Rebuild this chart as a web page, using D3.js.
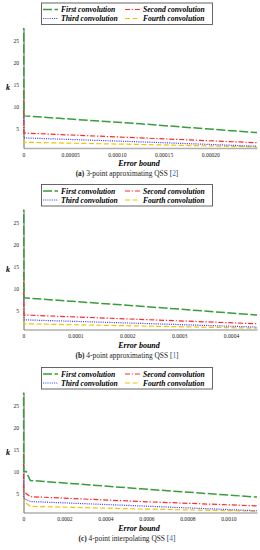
<!DOCTYPE html>
<html>
<head>
<meta charset="utf-8">
<script src="https://cdn.jsdelivr.net/npm/d3@7"></script>
<style>
  body { margin: 0; background: #fff; }
  svg text { font-family: "Liberation Serif", "DejaVu Serif", serif; }
</style>
</head>
<body>
<svg id="chart" width="260" height="550"></svg>
<script>
// series names and styles order
var seriesNames = ["First convolution", "Second convolution", "Third convolution", "Fourth convolution"];
var seriesColors = ["#3a9c3a", "#ff2b2b", "#4646ff", "#f4c300"];
var seriesDash = ["9,2.5", "5,1.8,1.3,1.8", "1.1,1.1", "5,2.5"];

// panel (a)
var xA = [0, 0.0000005, 0.000125, 0.00025];
var firstA = [40, 8.0, 6.2, 4.2];
var secondA = [13.8, 4.1, 3.0, 1.9];
var thirdA = [9, 3.0, 2.1, 1.1];
var fourthA = [6, 2.0, 1.5, 0.95];
var ticksA = [0, 0.00005, 0.0001, 0.00015, 0.0002];
var tickLabelsA = ["0", "0.00005", "0.00010", "0.00015", "0.00020"];

// panel (b)
var xB = [0, 0.000001, 0.000225, 0.00045];
var firstB = [40, 7.9, 6.0, 4.0];
var secondB = [13.8, 4.0, 3.0, 2.0];
var thirdB = [9, 2.9, 2.1, 1.25];
var fourthB = [6, 2.0, 1.5, 1.0];
var ticksB = [0, 0.0001, 0.0002, 0.0003, 0.0004];
var tickLabelsB = ["0", "0.0001", "0.0002", "0.0003", "0.0004"];

// panel (c)
var xC = [0, 0.000001, 0.000013, 0.000033, 0.00057, 0.00114];
var firstC = [40, 10, 10, 8.0, 6.1, 4.2];
var secondC = [14, 5.5, 5.0, 4.3, 3.2, 2.2];
var thirdC = [9, 4.0, 3.6, 3.2, 2.2, 1.1];
var fourthC = [6, 3.5, 2.8, 2.1, 1.5, 1.0];
var ticksC = [0, 0.0002, 0.0004, 0.0006, 0.0008, 0.001];
var tickLabelsC = ["0", "0.0002", "0.0004", "0.0006", "0.0008", "0.0010"];

var xMax = [0.00025, 0.00045, 0.00114];
var yTicks = [5, 10, 15, 20, 25];
var yDomain = [0.7, 28];
var captionLabels = ["(a)", "(b)", "(c)"];
var captionTexts = [" 3-point approximating QSS [", " 4-point approximating QSS [", " 4-point interpolating QSS ["];
var captionRefs = ["2", "1", "4"];

var panels = [
    {x: xA, series: [firstA, secondA, thirdA, fourthA], ticks: ticksA, labels: tickLabelsA},
    {x: xB, series: [firstB, secondB, thirdB, fourthB], ticks: ticksB, labels: tickLabelsB},
    {x: xC, series: [firstC, secondC, thirdC, fourthC], ticks: ticksC, labels: tickLabelsC}
];
var offsets = [0, 181.5, 364.5];

var svg = d3.select("#chart");
var plotLeft = 23.5, plotRight = 257, plotTop = 28, plotBottom = 148;

panels.forEach(function (p, i) {
    var g = svg.append("g").attr("transform", "translate(0," + offsets[i] + ")");

    var xScale = d3.scaleLinear().domain([0, xMax[i]]).range([plotLeft, plotRight]);
    var yScale = d3.scaleLinear().domain(yDomain).range([plotBottom, plotTop]);

    g.append("clipPath").attr("id", "clip" + i)
        .append("rect")
        .attr("x", plotLeft - 2).attr("y", plotTop)
        .attr("width", plotRight - plotLeft + 4).attr("height", plotBottom - plotTop);

    // axes
    var xAxis = d3.axisBottom(xScale).tickValues(p.ticks).tickSize(0)
        .tickFormat(function (d, j) { return p.labels[j]; });
    var gx = g.append("g").attr("transform", "translate(0," + plotBottom + ")").call(xAxis);
    gx.select(".domain").attr("stroke", "#b0b0b0").attr("stroke-width", 1.6);
    gx.selectAll("text").attr("font-size", 5.6).attr("dy", 0).attr("y", 8.5)
        .attr("fill", "#222").style("font-family", "Liberation Serif, serif");

    var yAxis = d3.axisLeft(yScale).tickValues(yTicks).tickSize(0);
    var gy = g.append("g").attr("transform", "translate(" + plotLeft + ",0)").call(yAxis);
    gy.select(".domain").attr("stroke", "#666").attr("stroke-width", 1);
    gy.selectAll("text").attr("font-size", 5.6).attr("x", -4.5)
        .attr("fill", "#222").style("font-family", "Liberation Serif, serif");

    // lines
    var line = d3.line()
        .x(function (d) { return xScale(d[0]); })
        .y(function (d) { return yScale(d[1]); });

    var lines = g.append("g").attr("clip-path", "url(#clip" + i + ")");
    [3, 2, 1, 0].forEach(function (s) {
        var pts = p.x.map(function (xv, j) { return [xv, p.series[s][j]]; });
        lines.append("path")
            .attr("d", line(pts))
            .attr("fill", "none")
            .attr("stroke", seriesColors[s])
            .attr("stroke-width", s == 0 ? 1.5 : 1.2)
            .attr("stroke-dasharray", seriesDash[s]);
    });

    // axis titles
    g.append("text")
        .attr("x", 139).attr("y", 166)
        .attr("text-anchor", "middle")
        .attr("font-size", 8).attr("font-weight", "bold").attr("font-style", "italic")
        .text("Error bound");
    g.append("text")
        .attr("x", 8).attr("y", 90)
        .attr("text-anchor", "middle")
        .attr("font-size", 8).attr("font-weight", "bold").attr("font-style", "italic")
        .text("k");

    // legend
    var lg = g.append("g");
    lg.append("rect")
        .attr("x", 41.5).attr("y", 3).attr("width", 171).attr("height", 21.5)
        .attr("fill", "#fff").attr("stroke", "#555").attr("stroke-width", 0.9);
    seriesNames.forEach(function (name, s) {
        var col = s % 2, row = Math.floor(s / 2);
        var lx = col == 0 ? 43 : 125;
        var ly = row == 0 ? 9.5 : 18.5;
        lg.append("line")
            .attr("x1", lx).attr("x2", lx + 15)
            .attr("y1", ly).attr("y2", ly)
            .attr("stroke", seriesColors[s])
            .attr("stroke-width", s == 0 ? 1.5 : 1.2)
            .attr("stroke-dasharray", seriesDash[s]);
        lg.append("text")
            .attr("x", lx + 18).attr("y", ly + 2.6)
            .attr("font-size", 7.6).attr("font-weight", "bold").attr("font-style", "italic")
            .text(name);
    });

    // caption
    var cap = g.append("text")
        .attr("x", 127).attr("y", 176)
        .attr("text-anchor", "middle")
        .attr("font-size", 7.4).attr("fill", "#222");
    cap.append("tspan").attr("font-weight", "bold").text(captionLabels[i]);
    cap.append("tspan").text(captionTexts[i]);
    cap.append("tspan").attr("fill", "#2a6fc0").text(captionRefs[i]);
    cap.append("tspan").text("]");
});
</script>
</body>
</html>
